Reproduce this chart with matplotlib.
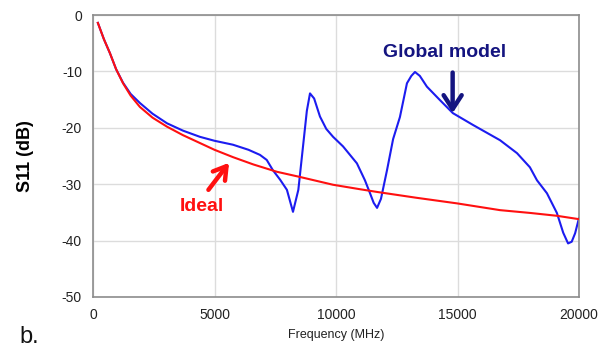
import numpy as np
import matplotlib
matplotlib.use('Agg')
import matplotlib.pyplot as plt

plt.rcParams['font.family'] = ['Liberation Sans', 'DejaVu Sans']
plt.rcParams['axes.unicode_minus'] = False

#### Data ####
freq_ideal = [200, 450, 700, 950, 1235, 1550, 1930, 2450, 3045, 3700, 4400, 5000, 5760,
              6600, 7570, 8500, 9880, 11000, 11730, 13300, 14980, 16750, 18000, 19090, 20000]
s11_ideal = [-1.4, -4.3, -6.8, -9.6, -12.1, -14.3, -16.3, -18.2, -19.8, -21.3, -22.7, -23.9, -25.2,
             -26.5, -27.8, -28.7, -30.1, -30.9, -31.4, -32.4, -33.4, -34.6, -35.1, -35.6, -36.2]

freq_model = [200, 450, 700, 950, 1235, 1550, 1930, 2450, 3045, 3700, 4400, 5000, 5760,
              6400, 6870, 7150, 7400, 7700, 7980, 8230, 8450, 8650, 8800, 8930, 9100,
              9340, 9600, 9880, 10290, 10860, 11190, 11400, 11550, 11690, 11850, 12100, 12350,
              12630, 12920, 13100, 13250, 13450, 13740, 14280, 14810, 15640, 16750, 17450,
              17980, 18270, 18680, 19090, 19350, 19550, 19700, 19840, 20000]
s11_model = [-1.4, -4.3, -6.8, -9.6, -12.0, -14.0, -15.6, -17.5, -19.2, -20.5, -21.6, -22.3, -23.0,
             -23.9, -24.8, -25.7, -27.5, -29.2, -31.0, -34.9, -31.0, -23.0, -17.0, -13.9, -14.8,
             -18.0, -20.2, -21.6, -23.3, -26.3, -29.3, -31.6, -33.3, -34.2, -32.6, -27.5, -22.0,
             -18.1, -12.1, -10.8, -10.1, -10.8, -12.7, -15.1, -17.4, -19.5, -22.2, -24.5,
             -27.0, -29.3, -31.6, -35.1, -38.6, -40.5, -40.2, -38.7, -36.0]

x_ticks = [0, 5000, 10000, 15000, 20000]
y_ticks = [0, -10, -20, -30, -40, -50]

fig = plt.figure(figsize=(6, 3.49), dpi=100)
ax = fig.add_axes([0.155, 0.149, 0.81, 0.808])

ax.plot(freq_ideal, s11_ideal, color='#ff1010', lw=1.5, zorder=3)
ax.plot(freq_model, s11_model, color='#1c1cf0', lw=1.5, zorder=2)

ax.set_xlim(0, 20000)
ax.set_ylim(-50, 0)
ax.set_xticks(x_ticks)
ax.set_yticks(y_ticks)
ax.grid(True, color='#dcdcdc', lw=1)
ax.set_axisbelow(True)
ax.tick_params(length=0, labelsize=10, colors='#222222', pad=8)
for sp in ax.spines.values():
    sp.set_color('#8c8c8c')
    sp.set_linewidth(1.2)

ax.set_xlabel('Frequency (MHz)', fontsize=9, color='#222222', labelpad=5)
ax.set_ylabel('S11 (dB)', fontsize=13, fontweight='bold', labelpad=20)

# annotations
ax.annotate('', xy=(14800, -17.4), xytext=(14800, -10.2),
            arrowprops=dict(arrowstyle='->, head_width=0.65, head_length=1.0',
                            color='#141480', lw=3.2, shrinkA=0, shrinkB=0))
ax.text(14450, -6.7, 'Global model', color='#141480', fontsize=14, fontweight='bold',
        ha='center', va='center')

ax.annotate('', xy=(5600, -26.2), xytext=(4750, -31.0),
            arrowprops=dict(arrowstyle='->, head_width=0.55, head_length=0.9',
                            color='#ff1010', lw=3.2, shrinkA=0, shrinkB=0))
ax.text(4500, -33.9, 'Ideal', color='#ff1010', fontsize=14, fontweight='bold',
        ha='center', va='center')

fig.text(0.033, 0.002, 'b.', fontsize=17, color='#111111', va='bottom')

fig.savefig('out.png', dpi=100)
